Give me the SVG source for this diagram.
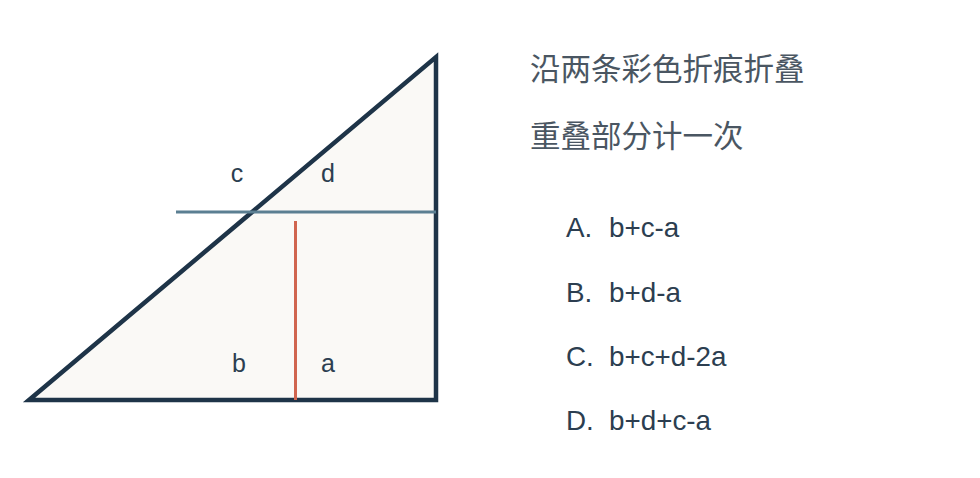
<svg xmlns="http://www.w3.org/2000/svg" width="980" height="478" viewBox="0 0 980 478">
<style>
.lbl{font-family:"Liberation Sans",Arial,sans-serif;font-size:25px;fill:#2c3e50;text-anchor:middle}
.cn{font-family:"Noto Sans CJK SC","Noto Sans",sans-serif;font-size:30.5px;fill:#4a5662}
.opt{font-family:"Liberation Sans",Arial,sans-serif;font-size:27.8px;fill:#2c3e50}
</style>
<rect width="980" height="478" fill="#ffffff"/>
<g id="triangle">
<polygon points="29,400 436,400 436,57" fill="#faf9f6" stroke="#1e3448" stroke-width="4.5" stroke-linejoin="miter"/>
</g>
<g id="connectors">
<line x1="176" y1="212" x2="436" y2="212" stroke="#5b7f92" stroke-width="3"/>
<line x1="295.5" y1="221" x2="295.5" y2="400" stroke="#d0654f" stroke-width="3"/>
</g>
<g id="labels">
<text class="lbl" x="237" y="182">c</text>
<text class="lbl" x="328" y="182">d</text>
<text class="lbl" x="239" y="372">b</text>
<text class="lbl" x="328" y="372">a</text>
</g>
<g id="question">
<text class="cn" x="530" y="80">沿两条彩色折痕折叠</text>
<text class="cn" x="530" y="147">重叠部分计一次</text>
</g>
<g id="options">
<text class="opt" x="566" y="237">A.</text><text class="opt" x="609" y="237">b+c-a</text>
<text class="opt" x="566" y="302">B.</text><text class="opt" x="609" y="302">b+d-a</text>
<text class="opt" x="566" y="366">C.</text><text class="opt" x="609" y="366">b+c+d-2a</text>
<text class="opt" x="566" y="430">D.</text><text class="opt" x="609" y="430">b+d+c-a</text>
</g>
</svg>
